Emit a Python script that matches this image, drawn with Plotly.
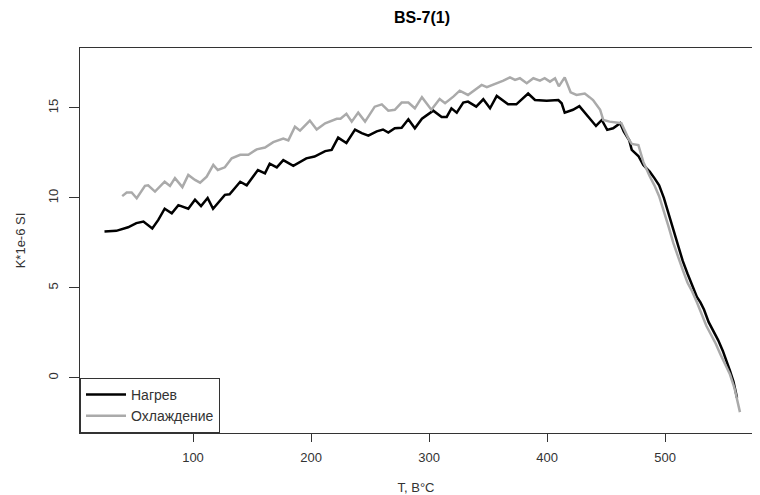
import plotly.graph_objects as go

# Heating (Нагрев)
heat_T = [25, 35, 45, 52, 58, 65.5, 70.6, 76, 82, 87.6, 96, 101.7, 106.8, 112.4, 117, 122,
          127, 131, 140, 145.5, 155, 161, 165, 171, 176.5, 185, 196, 203, 212, 217.5, 223, 230,
          237.3, 243, 248.6, 255.7, 261, 265.5, 271, 276.8, 282.5, 288, 294, 303.6, 310.7, 315,
          319, 323.5, 329, 333, 340, 346, 351.7, 357.4, 361.6, 367, 374, 384, 389.8, 399.7,
          409.6, 412.4, 415, 422, 427.4, 435, 441.5, 446.4, 451, 456, 462, 465, 469.7, 471.8,
          477.4, 481.6, 487, 491, 495, 499, 503, 507, 511, 515, 519, 523, 527, 530, 533, 537,
          541, 545, 549, 552, 555, 558, 561]
heat_K = [8.13, 8.17, 8.37, 8.6, 8.69, 8.3, 8.78, 9.4, 9.15, 9.6, 9.4, 9.9, 9.55, 10.0, 9.4, 9.8,
          10.17, 10.2, 10.9, 10.7, 11.55, 11.37, 11.9, 11.7, 12.1, 11.78, 12.2, 12.3, 12.6, 12.67, 13.35, 13.05,
          13.8, 13.6, 13.46, 13.7, 13.8, 13.63, 13.87, 13.9, 14.37, 13.87, 14.4, 14.85, 14.5, 14.5,
          14.98, 14.74, 15.3, 15.35, 15.07, 15.48, 14.98, 15.67, 15.48, 15.2, 15.2, 15.8, 15.44, 15.4,
          15.44, 15.26, 14.74, 14.9, 15.1, 14.5, 14.0, 14.33, 13.78, 13.87, 14.15, 13.7, 13.2, 12.67,
          12.33, 11.83, 11.46, 11.1, 10.7, 10.0, 9.1, 8.2, 7.3, 6.5, 5.8, 5.1, 4.5, 4.2, 3.8, 3.1,
          2.6, 2.1, 1.5, 1.0, 0.4, -0.2, -1.1]

# Cooling (Охлаждение)
cool_T = [40, 43.8, 48, 52.3, 59.3, 62, 67.8, 76, 80.5, 84.7, 91, 96, 101.7, 106, 111.6, 117.2,
          121, 127, 132.8, 140, 146.9, 154, 161, 168, 176.5, 180.8, 186.4, 190.7, 199, 204.8, 212,
          221.8, 225, 230, 234.5, 240, 245.8, 254, 260, 265.5, 271, 276.8, 282.5, 288, 294, 302,
          309, 313.6, 320.6, 326, 333, 339, 344.6, 349, 356, 363, 368.6, 372.9, 377, 382.8, 388.4,
          394, 398, 402.5, 406.8, 410, 415, 420, 425, 432, 436, 439, 445, 447.7, 453, 459, 463,
          469, 471.8, 477.4, 481.6, 487, 491, 495, 499, 503, 507, 511, 515, 519, 523, 527, 531,
          535, 539, 543, 547, 551, 555, 559, 563.5]
cool_K = [10.1, 10.3, 10.3, 9.98, 10.67, 10.7, 10.35, 10.9, 10.67, 11.1, 10.6, 11.28, 11.0, 10.85, 11.18, 11.83,
          11.55, 11.7, 12.2, 12.4, 12.4, 12.7, 12.8, 13.1, 13.3, 13.2, 13.96, 13.74, 14.3, 13.8, 14.15,
          14.4, 14.4, 14.67, 14.24, 14.74, 14.24, 15.07, 15.2, 14.85, 14.9, 15.3, 15.3, 14.98, 15.6, 14.9,
          15.5, 15.26, 15.63, 15.96, 15.72, 16.0, 16.28, 16.15, 16.33, 16.52, 16.7, 16.56, 16.65, 16.37, 16.65,
          16.52, 16.65, 16.46, 16.65, 16.2, 16.7, 15.87, 15.72, 15.8, 15.6, 15.44, 14.9, 14.33, 14.24, 14.18, 14.15,
          13.3, 13.0, 12.94, 12.0, 11.2, 10.7, 10.1, 9.3, 8.4, 7.5, 6.7, 6.0, 5.3, 4.8, 4.2, 3.5,
          2.9, 2.4, 1.9, 1.3, 0.7, 0.2, -0.6, -1.9]

x_ticks = [100, 200, 300, 400, 500]
y_ticks = [0, 5, 10, 15]

FONT = "Liberation Sans, Arial, sans-serif"
AX = "#333333"
W, H = 752, 487  # page body has an 8px default margin

fig = go.Figure()
fig.add_trace(go.Scatter(x=heat_T, y=heat_K, mode="lines", name="Нагрев",
                         line=dict(color="black", width=2.5)))
fig.add_trace(go.Scatter(x=cool_T, y=cool_K, mode="lines", name="Охлаждение",
                         line=dict(color="#aaaaaa", width=2.5)))

fig.update_layout(
    width=W, height=H,
    margin=dict(l=72, r=8, t=40, b=62),
    paper_bgcolor="white", plot_bgcolor="white",
    font=dict(family=FONT, size=13, color=AX),
    title=dict(text="<b>BS-7(1)</b>", x=414/W, xref="container", xanchor="center",
               y=1-9/H, yref="container", yanchor="middle",
               font=dict(family=FONT, size=16, color="black")),
    showlegend=True,
    legend=dict(x=0, y=0, xanchor="left", yanchor="bottom", bgcolor="white",
                bordercolor=AX, borderwidth=1, font=dict(family=FONT, size=14, color=AX),
                tracegroupgap=0, itemwidth=40),
    xaxis=dict(range=[4.24, 573.7], tickvals=x_ticks, ticks="outside", ticklen=8, tickcolor=AX,
               showline=True, mirror=True, linecolor=AX, linewidth=1, showgrid=False,
               zeroline=False, tickfont=dict(size=13, color=AX), automargin=False,
               ticklabelstandoff=4,
               title=dict(text="T, В°C", standoff=26, font=dict(size=13, color=AX))),
    yaxis=dict(range=[-3.06, 18.33], tickvals=y_ticks, ticks="outside", ticklen=10, tickcolor=AX,
               tickangle=-90, showline=True, mirror=True, linecolor=AX, linewidth=1,
               showgrid=False, zeroline=False, tickfont=dict(size=13, color=AX), automargin=False,
               ticklabelstandoff=6,
               title=dict(text="K*1e-6 SI", standoff=17, font=dict(size=13, color=AX))),
)

fig.write_html("out.html")
